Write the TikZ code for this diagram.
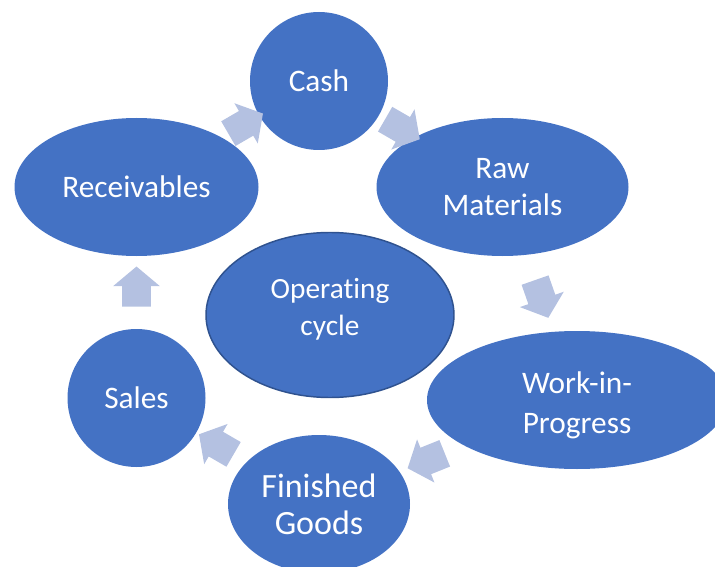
\documentclass[tikz,border=0pt]{standalone}
\usepackage{fontspec}
\setmainfont[Ligatures=NoCommon]{Carlito}
\usetikzlibrary{shapes.geometric,shapes.arrows,calc}
\definecolor{cycblue}{HTML}{4472C4}
\definecolor{cycedge}{HTML}{2F528F}
\definecolor{cycarrow}{HTML}{B4C1E1}

\begin{document}
\begin{tikzpicture}[x=0.75pt,y=0.75pt,yscale=-1,
  stage/.style={ellipse,fill=cycblue,text=white,inner sep=0pt,align=center,font=\fontsize{23.5}{28}\selectfont},
  flow/.style={single arrow,fill=cycarrow,inner xsep=0pt,inner ysep=10.5pt,minimum height=30pt,single arrow head extend=6.75pt,single arrow tip angle=100}]
\clip (0,0) rectangle (715,567);

%Ellipse stages
\node[stage,minimum width=103.5pt,minimum height=103.5pt] (cash) at (319,81) {Cash};
\node[stage,minimum width=189pt,minimum height=103.5pt] (raw) at (502.5,187) {Raw\\Materials};
\node[stage,minimum width=225pt,minimum height=103.5pt,font=\fontsize{23.5}{30}\selectfont,text height=55pt] (wip) at (577,400) {Work-in-\\Progress};
\node[stage,minimum width=136.5pt,minimum height=103.5pt,font=\fontsize{25.5}{28}\selectfont] (fg) at (319,504) {Finished\\Goods};
\node[stage,minimum width=103.5pt,minimum height=103.5pt] (sales) at (136.5,398) {Sales};
\node[stage,minimum width=183pt,minimum height=103.5pt] (recv) at (136.5,187) {Receivables};
%Centre ellipse
\node[stage,draw=cycedge,line width=1.1pt,minimum width=186pt,minimum height=123.75pt,font=\fontsize{22}{28}\selectfont,text depth=12pt] (op) at (330,315) {Operating\\cycle};

% Block arrows
\foreach \a/\b in {cash/raw,raw/wip,wip/fg,fg/sales,sales/recv,recv/cash}
  \path let \p1=($(\b)-(\a)$) in (\a) -- node[flow,rotate={atan2(-\y1,\x1)}] {} (\b);
\end{tikzpicture}
\end{document}
